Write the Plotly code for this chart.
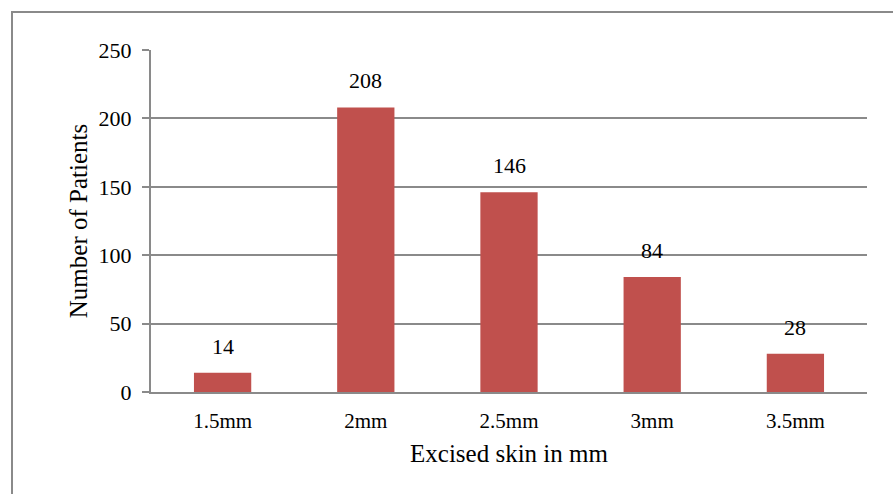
import plotly.graph_objects as go

categories = ["1.5mm", "2mm", "2.5mm", "3mm", "3.5mm"]
patients = [14, 208, 146, 84, 28]
y_ticks = [0, 50, 100, 150, 200, 250]

W, H = 893, 494
L, R, T, B = 151, 26, 49.5, 102
pw, ph = W - L - R, H - T - B

fig = go.Figure()
fig.add_trace(go.Bar(
    x=categories, y=patients,
    marker=dict(color="#C0504D", line=dict(width=0)),
    width=0.4, hoverinfo="skip",
))

for c, v in zip(categories, patients):
    fig.add_annotation(x=c, y=v, text=str(v), showarrow=False,
                       yanchor="bottom", yshift=12,
                       font=dict(family="Liberation Serif", size=22, color="#000"))

def px_x(p):
    return (p - L) / pw

def px_y(p):
    return (H - B - p) / ph

fig.add_shape(type="rect", xref="paper", yref="paper",
              x0=px_x(12), x1=px_x(H * 3), y0=px_y(H + 50), y1=px_y(11.5),
              line=dict(color="#8a8a8a", width=2), fillcolor="rgba(0,0,0,0)", layer="below")

font = dict(family="Liberation Serif", color="#000")
fig.update_layout(
    width=W, height=H,
    margin=dict(l=L, r=R, t=T, b=B, pad=0),
    paper_bgcolor="white", plot_bgcolor="white",
    showlegend=False,
    bargap=0.6,
    xaxis=dict(
        showgrid=False, showline=True, linecolor="#8a8a8a", linewidth=2,
        ticks="", tickfont=dict(size=21, **font), ticklabelstandoff=9,
        title=dict(text="Excised skin in mm", font=dict(size=25, **font), standoff=12),
    ),
    yaxis=dict(
        range=[0, 250], tickvals=y_ticks, showgrid=True, gridcolor="#8a8a8a", gridwidth=2,
        showline=True, linecolor="#8a8a8a", linewidth=2,
        ticks="outside", ticklen=7, tickcolor="#8a8a8a", tickwidth=2,
        tickfont=dict(size=22, **font), zeroline=False, ticklabelstandoff=6,
        title=dict(text="Number of Patients", font=dict(size=25, **font), standoff=4),
    ),
)

fig.write_html("out.html", config={"displayModeBar": False},
               post_script="document.body.style.margin='0';document.body.style.overflow='hidden';")
